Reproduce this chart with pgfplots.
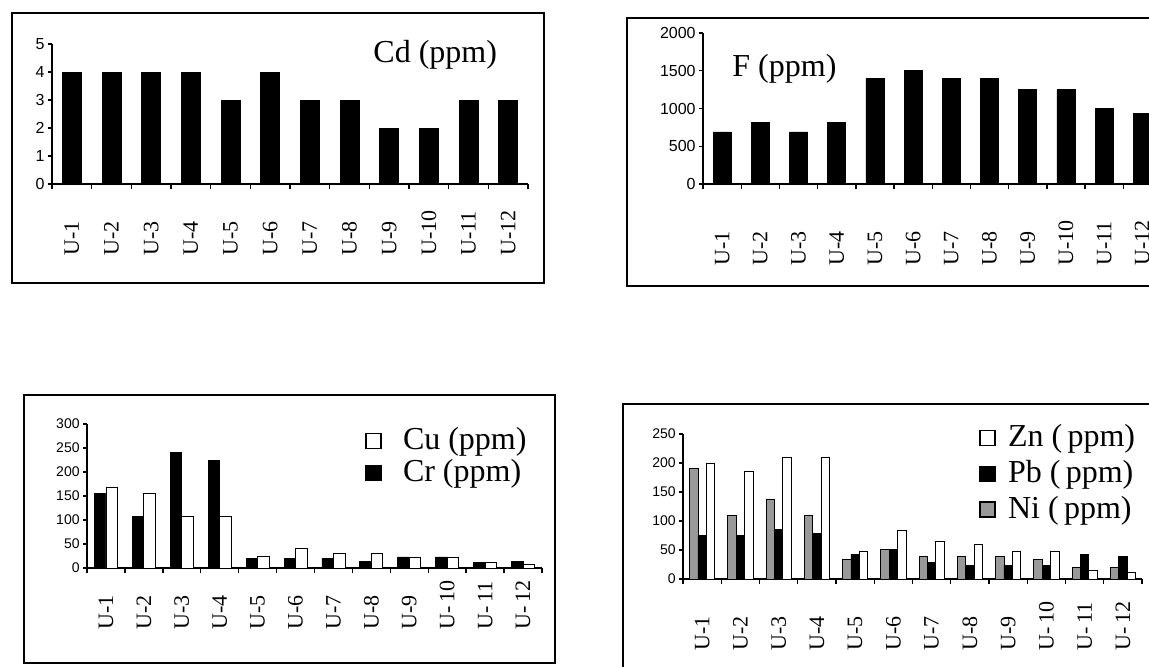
\documentclass[border=0pt]{standalone}
\usepackage{fontspec}
\setmainfont{Liberation Serif}
\newfontfamily\tickfont{Liberation Sans}
\usepackage{pgfplots}
\pgfplotsset{compat=1.18}
\definecolor{nigray}{HTML}{999999}

\pgfplotstableread{
x Cd F Cr Cu Ni Pb Zn
0 4 690 155 167 190 75 200
1 4 820 107 155 110 75 185
2 4 690 240 107 138 85 210
3 4 820 224 107 110 79 210
4 3 1400 19 24 33 43 47
5 4 1500 19 40 51 51 83
6 3 1400 19 30 39 29 64
7 3 1400 13 30 39 24 60
8 2 1250 23 23 39 24 47
9 2 1250 23 23 33 24 47
10 3 1000 12 12 20 43 14
11 3 930 13 7 20 39 11
}\datatable

\pgfplotsset{panel/.style={
  scale only axis,
  axis x line*=bottom, axis y line*=left,
  xmin=-0.5, xmax=11.5, ymin=0,
  enlargelimits=false,
  xtick={0,...,11},
  minor xtick={-0.5,0.5,...,11.5},
  tick align=outside,
  major tick length=2pt, minor tick length=2.5pt,
  every major x tick/.append style={draw=none},
  every minor x tick/.append style={draw=black, line width=0.7pt},
  ytick style={line width=0.6pt, black},
  axis line style={line width=0.7pt, black},
  xticklabel style={rotate=90, anchor=west, inner sep=0pt, font=\fontsize{11}{11}\selectfont},
  yticklabel style={font=\tickfont\fontsize{8}{8}\selectfont, inner sep=1.5pt},
  /pgf/number format/assume math mode=true,
  /pgf/number format/1000 sep={},
},
boxlegend/.style={
  legend image code/.code={\draw[##1, line width=0.6pt] (0pt,0.5pt) rectangle (7.5pt,8pt); \path[draw=none, fill=none] (0pt,4pt) -- (#1,4pt);},
  legend style={draw=none, fill=none, inner sep=0pt, font=\fontsize{16}{16}\selectfont, nodes={inner sep=0pt, anchor=base west}},
}}

\begin{document}
\begin{tikzpicture}
\useasboundingbox (0pt,0pt) rectangle (574.5pt,333pt);
\clip (0pt,0pt) rectangle (574.5pt,333pt);

% frames
\draw[line width=1pt] (6pt,326.5pt) rectangle (272pt,191.5pt);
\draw[line width=1pt] (313.5pt,324pt) rectangle (585pt,190pt);
\draw[line width=1pt] (12pt,135.5pt) rectangle (277.5pt,1.5pt);
\draw[line width=1pt] (311.5pt,131pt) rectangle (585pt,-12pt);

% Cd
\begin{axis}[panel, at={(26pt,241pt)}, anchor=south west,
  width=238pt, height=70pt, ymax=5, ytick={0,1,...,5},
  xticklabels={U-1,U-2,U-3,U-4,U-5,U-6,U-7,U-8,U-9,U-10,U-11,U-12},
  xticklabel shift=34pt]
\addplot[ybar, bar width=9.5pt, fill=black, draw=black] table[x=x, y=Cd] {\datatable};
\end{axis}
\node[anchor=base west, inner sep=0pt, font=\fontsize{16}{16}\selectfont] at (186.5pt,302pt) {Cd (ppm)};

% F
\begin{axis}[panel, at={(351.5pt,241pt)}, anchor=south west,
  width=229.2pt, height=75.5pt, ymax=2000, ytick={0,500,...,2000},
  xticklabels={U-1,U-2,U-3,U-4,U-5,U-6,U-7,U-8,U-9,U-10,U-11,U-12},
  xticklabel shift=39pt]
\addplot[ybar, bar width=9pt, fill=black, draw=black] table[x=x, y=F] {\datatable};
\end{axis}
\node[anchor=base west, inner sep=0pt, font=\fontsize{16}{16}\selectfont] at (366pt,295pt) {F (ppm)};

% Cu / Cr
\begin{axis}[panel, at={(43.5pt,49pt)}, anchor=south west,
  width=227.5pt, height=72pt, ymax=300, ytick={0,50,...,300},
  yticklabel style={font=\tickfont\fontsize{7}{7}\selectfont},
  xticklabels={U-1,U-2,U-3,U-4,U-5,U-6,U-7,U-8,U-9,U-\,10,U-\,11,U-\,12},
  xticklabel shift=29pt,
  ybar=0pt, bar width=5.75pt, boxlegend=18.5pt,
  reverse legend,
  legend style={at={(0.611,0.979)}, anchor=north west, row sep=3.5pt}]
\addplot[fill=black, draw=black] table[x=x, y=Cr] {\datatable};
\addplot[fill=white, draw=black] table[x=x, y=Cu] {\datatable};
\legend{Cr (ppm), Cu (ppm)}
\end{axis}

% Zn / Pb / Ni
\begin{axis}[panel, at={(341.5pt,43.5pt)}, anchor=south west,
  width=229.5pt, height=72.5pt, ymax=250, ytick={0,50,...,250},
  yticklabel style={font=\tickfont\fontsize{7}{7}\selectfont},
  xticklabels={U-1,U-2,U-3,U-4,U-5,U-6,U-7,U-8,U-9,U-\,10,U-\,11,U-\,12},
  xticklabel shift=34pt,
  ybar=0pt, bar width=4.2pt, boxlegend=14pt,
  reverse legend,
  legend style={at={(0.645,1.069)}, anchor=north west, row sep=5.25pt}]
\addplot[fill=nigray, draw=black] table[x=x, y=Ni] {\datatable};
\addplot[fill=black, draw=black] table[x=x, y=Pb] {\datatable};
\addplot[fill=white, draw=black] table[x=x, y=Zn] {\datatable};
\legend{Ni (\,ppm), Pb (\,ppm), Zn (\,ppm)}
\end{axis}
\end{tikzpicture}
\end{document}
